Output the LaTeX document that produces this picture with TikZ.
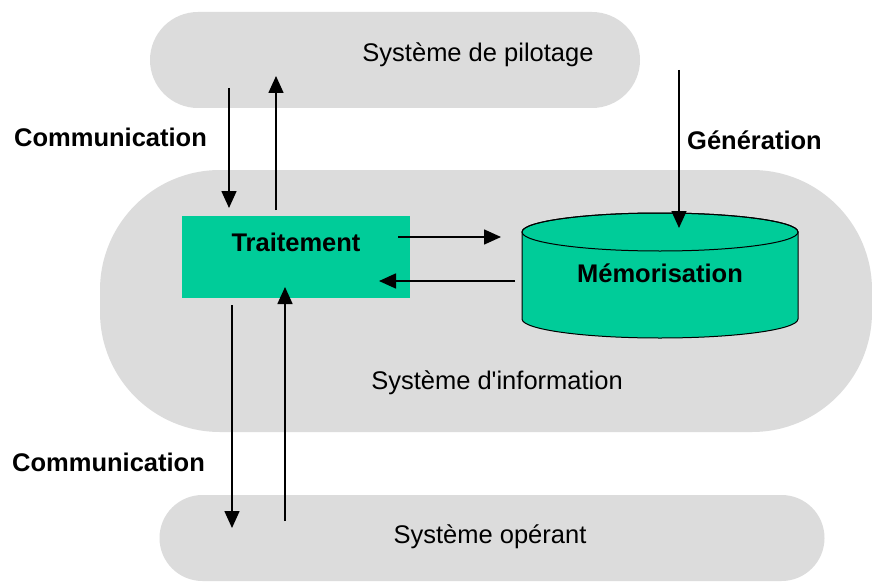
\documentclass[tikz,border=0pt]{standalone}
\usepackage{fontspec}
\setmainfont{Liberation Sans}
\usetikzlibrary{arrows.meta}
\definecolor{pillgray}{RGB}{220,220,220}
\definecolor{tealgreen}{RGB}{0,204,153}
\tikzset{
  pill/.style={fill=pillgray, draw=none, inner sep=0pt},
  plain/.style={font=\fontsize{25.5}{28}\selectfont, inner sep=0pt},
  boldlab/.style={font=\fontsize{25.5}{28}\selectfont\bfseries, inner sep=0pt},
  arr/.style={line width=1.6pt, -{Triangle[length=17pt,width=15pt]}},
  procbox/.style={fill=tealgreen, draw=none, inner sep=0pt, minimum width=228pt, minimum height=82pt}
}
\begin{document}
\begin{tikzpicture}[x=1pt,y=1pt]
\useasboundingbox (0,0) rectangle (872,-583);
\fill[white] (0,0) rectangle (872,-583);
% pills
\node[pill, minimum width=490pt, minimum height=96pt, rounded corners=48pt] (pil) at (395,-60) {};
\node[pill, minimum width=772pt, minimum height=262pt, rounded corners=120pt] (info) at (486,-301) {};
\node[pill, minimum width=665pt, minimum height=86pt, rounded corners=43pt] (oper) at (492,-538) {};
\node[plain] (piltxt) at (478,-55) {Système de pilotage};
\node[plain] (infotxt) at (497,-383) {Système d\textquotesingle information};
\node[plain] (opertxt) at (490,-537) {Système opérant};
% traitement
\node[procbox] (trait) at (296,-257) {};
\node[boldlab] (traittxt) at (296,-242) {Traitement};
% cylinder
\fill[tealgreen, draw=black, line width=1pt]
  (522,-232) -- (522,-319) arc[start angle=180, end angle=360, x radius=138pt, y radius=19pt]
  -- (798,-232) arc[start angle=0, end angle=180, x radius=138pt, y radius=19pt] -- cycle;
\draw[line width=1pt] (660,-232) ellipse [x radius=138pt, y radius=19pt];
\node[boldlab] (memo) at (660,-273) {Mémorisation};
% labels
\node[boldlab, anchor=west] (com1) at (14,-137) {Communication};
\node[boldlab, anchor=west] (gen) at (687,-140) {Génération};
\node[boldlab, anchor=west] (com2) at (12,-462) {Communication};
% arrow endpoints
\coordinate (a1s) at (229,-88);  \coordinate (a1e) at (229,-208);
\coordinate (a2s) at (276,-210); \coordinate (a2e) at (276,-76);
\coordinate (a3s) at (398,-237); \coordinate (a3e) at (501,-237);
\coordinate (a4s) at (515,-281); \coordinate (a4e) at (379,-281);
\coordinate (a5s) at (679,-70);  \coordinate (a5e) at (679,-228);
\coordinate (a6s) at (232,-305); \coordinate (a6e) at (232,-528);
\coordinate (a7s) at (285,-521); \coordinate (a7e) at (285,-287);
\draw[arr] (a1s) -- (a1e);
\draw[arr] (a2s) -- (a2e);
\draw[arr] (a3s) -- (a3e);
\draw[arr] (a4s) -- (a4e);
\draw[arr] (a5s) -- (a5e);
\draw[arr] (a6s) -- (a6e);
\draw[arr] (a7s) -- (a7e);
\end{tikzpicture}
\end{document}
